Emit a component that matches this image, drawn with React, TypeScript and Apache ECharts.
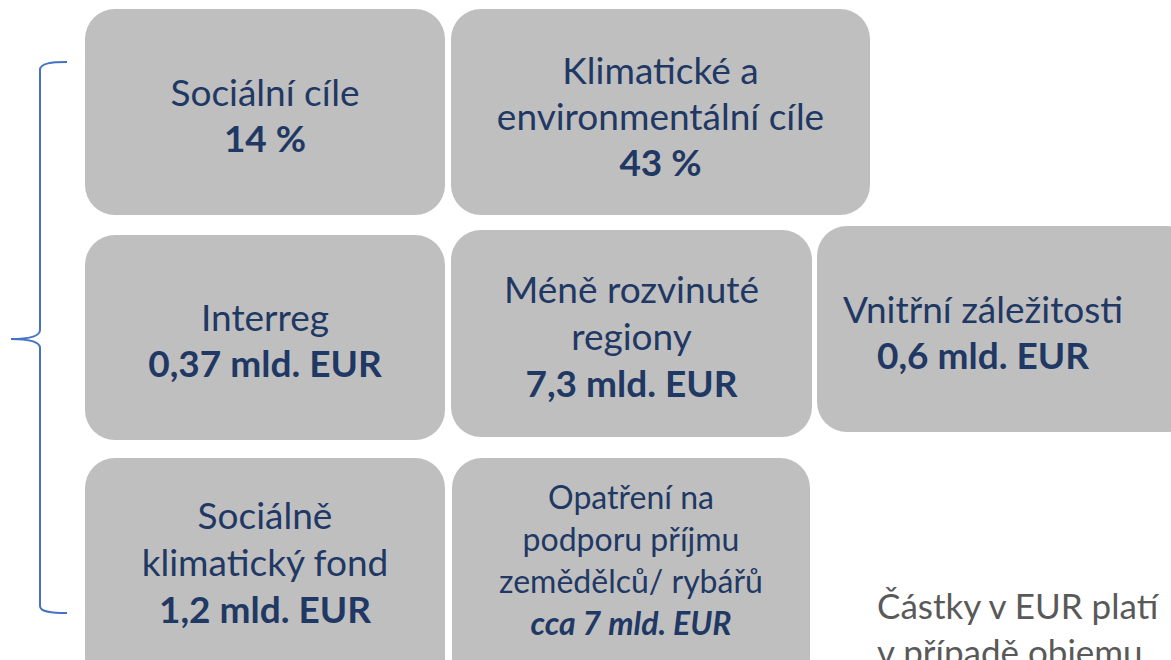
import React, { useEffect, useRef } from "react";
import * as echarts from "echarts";

// ---- content ----
const boxTitles: string[][] = [
  ["Sociální cíle"],
  ["Klimatické a", "environmentální cíle"],
  ["Interreg"],
  ["Méně rozvinuté", "regiony"],
  ["Vnitřní záležitosti"],
  ["Sociálně", "klimatický fond"],
  ["Opatření na", "podporu příjmu", "zemědělců/ rybářů"],
];
const boxValues: string[] = [
  "14 %",
  "43 %",
  "0,37 mld. EUR",
  "7,3 mld. EUR",
  "0,6 mld. EUR",
  "1,2 mld. EUR",
  "cca 7 mld. EUR",
];
const valueItalic: boolean[] = [false, false, false, false, false, false, true];
const noteLines: string[] = ["Částky v EUR platí", "v případě objemu"];

// ---- layout (x, y, w, h, textCenterY, fontSize, lineHeight) ----
const layout = [
  [85, 9, 360, 206, 114, 37, 46],
  [451, 9, 419, 206, 115, 37, 46],
  [85, 235, 360, 205, 339, 37, 46],
  [451, 230, 361, 207, 335, 37, 47],
  [817, 226, 380, 206, 331, 37, 46],
  [85, 458, 360, 230, 561, 37, 47],
  [452, 458, 358, 230, 559, 32, 42],
];

const FONT = "Lato";
const NAVY = "#1F3864";

export default function App() {
  const ref = useRef<HTMLDivElement>(null);
  useEffect(() => {
    document.body.style.margin = "0";
    const chart = echarts.init(ref.current!, null, { renderer: "svg" });
    echarts.graphic.registerShape(
      "brace",
      echarts.graphic.extendPath(
        "M67,62 C52,62 40,63 40,70 L40,330 C40,337 26,339 11,339 C26,339 40,341 40,348 L40,606 C40,612 52,613 67,613",
        {}
      )
    );
    const elements: any[] = [];
    layout.forEach((l, i) => {
      const [x, y, w, h, cy, fs, lh] = l;
      elements.push({
        type: "rect",
        shape: { x, y, width: w, height: h, r: 30 },
        style: { fill: "#BFBFBF" },
      });
      const lines = boxTitles[i].map((t) => `{n|${t}}`);
      lines.push(`{${valueItalic[i] ? "bi" : "b"}|${boxValues[i]}}`);
      elements.push({
        type: "text",
        x: i === 4 ? 983 : x + w / 2,
        y: cy,
        style: {
          text: lines.join("\n"),
          align: "center",
          verticalAlign: "middle",
          fontFamily: FONT,
          fill: NAVY,
          rich: {
            n: { fontSize: fs, lineHeight: lh, fontFamily: FONT, fill: NAVY, align: "center" },
            b: { fontSize: fs, lineHeight: lh, fontWeight: "bold", fontFamily: FONT, fill: NAVY, align: "center" },
            bi: {
              fontSize: fs,
              lineHeight: lh,
              fontWeight: "bold",
              fontStyle: "italic",
              fontFamily: FONT,
              fill: NAVY,
              align: "center",
            },
          },
        },
      });
    });
    noteLines.forEach((t, i) => {
      elements.push({
        type: "text",
        x: 877,
        y: 605 + i * 46,
        style: {
          text: t,
          align: "left",
          verticalAlign: "middle",
          fontFamily: FONT,
          fontSize: 35,
          fill: "#595959",
        },
      });
    });
    elements.push({
      type: "brace",
      x: 0,
      y: 0,
      style: { fill: "none", stroke: "#4472C4", lineWidth: 2 },
    });
    chart.setOption({
      animation: false,
      graphic: { elements },
    });
    return () => chart.dispose();
  }, []);
  return <div ref={ref} style={{ width: 1171, height: 660, background: "#fff" }} />;
}
